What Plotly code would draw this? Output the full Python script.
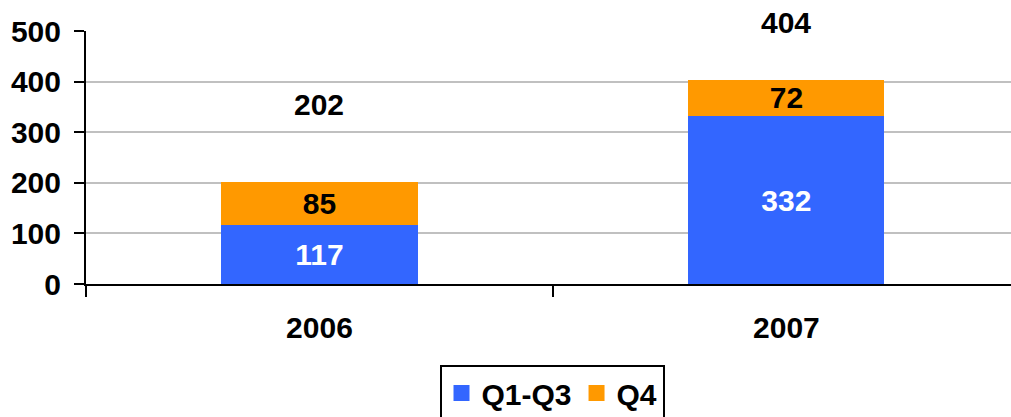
import plotly.graph_objects as go

years = ["2006", "2007"]
q1_q3 = [117, 332]
q4 = [85, 72]
totals = [202, 404]
total_label_shift = [77, 57]  # pixel offsets of total labels above bars

BLUE = "#3366FF"
ORANGE = "#FF9900"
FONT = "Liberation Sans, Arial, sans-serif"
FS = 30

fig = go.Figure()
fig.add_trace(go.Bar(
    x=years, y=q1_q3, name="Q1-Q3", marker_color=BLUE, marker_line_width=0,
    text=[str(v) for v in q1_q3], textposition="inside", insidetextanchor="middle",
    textangle=0, constraintext="none", showlegend=False,
    textfont=dict(family=FONT, size=FS, color="white", weight="bold"),
    width=0.42,
))
fig.add_trace(go.Bar(
    x=years, y=q4, name="Q4", marker_color=ORANGE, marker_line_width=0,
    text=[str(v) for v in q4], textposition="inside", insidetextanchor="middle",
    textangle=0, constraintext="none", showlegend=False,
    textfont=dict(family=FONT, size=FS, color="black", weight="bold"),
    width=0.42,
))
# legend entries with larger square swatches
for name, col in [("Q1-Q3", BLUE), ("Q4", ORANGE)]:
    fig.add_trace(go.Scatter(x=[None], y=[None], mode="markers", name=name,
                             marker=dict(symbol="square", size=19, color=col)))

for i, (tot, sh) in enumerate(zip(totals, total_label_shift)):
    fig.add_annotation(x=i, y=tot, xref="x", yref="y", text=f"<b>{tot}</b>",
                       showarrow=False, yshift=sh,
                       font=dict(family=FONT, size=FS, color="black"))

fig.update_layout(
    barmode="stack",
    width=1011, height=417,
    margin=dict(l=86, r=0, t=31, b=133, autoexpand=False),
    plot_bgcolor="white", paper_bgcolor="white",
    font=dict(family=FONT, size=FS, color="black", weight="bold"),
    showlegend=True,
    legend=dict(orientation="h", x=0.546, xanchor="center", xref="container",
                y=0.125, yanchor="top", yref="container",
                bordercolor="black", borderwidth=2, bgcolor="white",
                font=dict(family=FONT, size=FS, color="black", weight="bold"),
                itemwidth=30, traceorder="normal"),
    xaxis=dict(type="category", range=[-0.5, 1.481], tickson="boundaries",
               ticks="outside", ticklen=11, tickwidth=2, tickcolor="black",
               showline=True, linecolor="black", linewidth=2, showgrid=False,
               ticklabelstandoff=16, automargin=False,
               tickfont=dict(family=FONT, size=FS, color="black", weight="bold")),
    yaxis=dict(range=[0, 500], tickvals=[0, 100, 200, 300, 400, 500],
               ticks="outside", ticklen=10, tickwidth=2, tickcolor="black",
               showline=True, linecolor="black", linewidth=2,
               showgrid=True, gridcolor="#C0C0C0", gridwidth=2, zeroline=False,
               ticklabelstandoff=7, automargin=False,
               tickfont=dict(family=FONT, size=FS, color="black", weight="bold")),
)

fig.write_html("out.html", config={"displayModeBar": False},
               post_script="document.body.style.margin='0';")
